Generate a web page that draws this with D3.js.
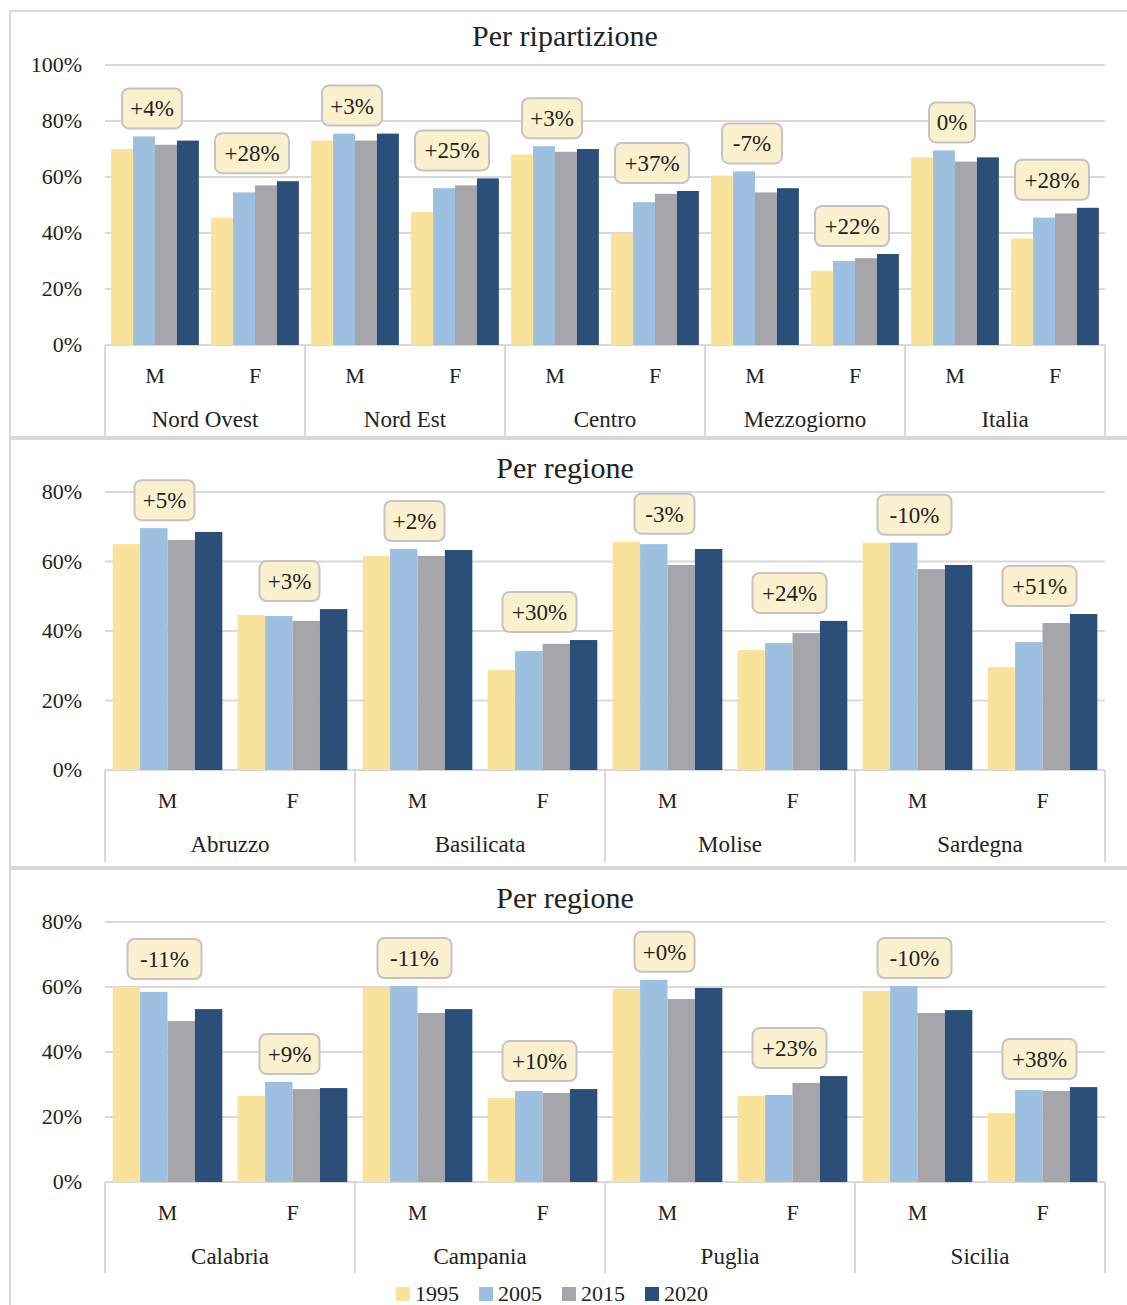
<!DOCTYPE html>
<html><head><meta charset="utf-8">
<script src="https://cdn.jsdelivr.net/npm/d3@7"></script>
<style>body{margin:0;background:#fff}svg text{font-family:"Liberation Serif","DejaVu Serif",serif;fill:#222}</style>
</head><body><svg id="c" width="1127" height="1305" font-family="Liberation Serif, serif"></svg>
<script>
const years = ["1995","2005","2015","2020"];
const colors = ["#f9e39a","#9dbfe0","#a6a6aa","#2c4f79"];
const sexes = ["M","F"];
// panel 1
const p1Groups = ["Nord Ovest","Nord Est","Centro","Mezzogiorno","Italia"];
const p1Values = [
 [[70,74.5,71.5,73],[45.5,54.5,57,58.5]],
 [[73,75.5,73,75.5],[47.5,56,57,59.5]],
 [[68,71,69,70],[40,51,54,55]],
 [[60.5,62,54.5,56],[26.5,30,31,32.5]],
 [[67,69.5,65.5,67],[38,45.5,47,49]]];
const p1Labels = [["+4%","+28%"],["+3%","+25%"],["+3%","+37%"],["-7%","+22%"],["0%","+28%"]];
// panel 2
const p2Groups = ["Abruzzo","Basilicata","Molise","Sardegna"];
const p2Values = [
 [[65,69.6,66.2,68.5],[44.6,44.3,42.9,46.3]],
 [[61.6,63.6,61.6,63.3],[28.8,34.2,36.3,37.4]],
 [[65.7,65,59,63.6],[34.5,36.5,39.4,42.9]],
 [[65.4,65.4,57.8,59],[29.6,36.8,42.3,44.9]]];
const p2Labels = [["+5%","+3%"],["+2%","+30%"],["-3%","+24%"],["-10%","+51%"]];
// panel 3
const p3Groups = ["Calabria","Campania","Puglia","Sicilia"];
const p3Values = [
 [[60,58.5,49.5,53.2],[26.5,30.8,28.6,28.9]],
 [[59.7,60.3,52,53.2],[25.8,28,27.4,28.6]],
 [[59.4,62.2,56.3,59.7],[26.5,26.8,30.5,32.6]],
 [[58.8,60.3,52,52.9],[21.2,28.3,28,29.2]]];
const p3Labels = [["-11%","+9%"],["-11%","+10%"],["+0%","+23%"],["-10%","+38%"]];

const svg = d3.select("#c");
function panel(o){
  const g = svg.append("g");
  g.append("rect").attr("x",10).attr("y",o.by0).attr("width",1130).attr("height",o.by1-o.by0)
   .attr("fill","none").attr("stroke","#d9d9d9").attr("stroke-width",2);
  g.append("text").attr("x",565).attr("y",o.ty).attr("text-anchor","middle").attr("font-size",30).text(o.title);
  const y = d3.scaleLinear().domain([0,o.max]).range([o.y0,o.y1]);
  const x0 = d3.scaleBand().domain(o.groups).range([105,1105]);
  const x1 = d3.scaleBand().domain(sexes).range([0,x0.bandwidth()]);
  const x2 = d3.scaleBand().domain(years).range([0,x1.bandwidth()]).paddingOuter(0.28).paddingInner(0);
  const ticks = d3.range(0,o.max+1,20);
  g.selectAll(".gl").data(ticks).join("line").attr("x1",105).attr("x2",1105)
   .attr("y1",d=>y(d)).attr("y2",d=>y(d)).attr("stroke","#d9d9d9").attr("stroke-width",2);
  g.selectAll(".tl").data(ticks).join("text").attr("x",82).attr("y",d=>y(d)+7)
   .attr("text-anchor","end").attr("font-size",22).text(d=>d+"%");
  o.groups.forEach((grp,gi)=>{
    sexes.forEach((s,si)=>{
      const vals=o.values[gi][si];
      const bx=x0(grp)+x1(s);
      const gg=g.append("g").attr("transform",`translate(${bx},0)`);
      gg.selectAll("rect").data(vals).join("rect").attr("x",(d,i)=>x2(years[i])).attr("width",x2.bandwidth())
        .attr("y",d=>y(d)).attr("height",d=>y(0)-y(d)).attr("fill",(d,i)=>colors[i]);
      const cx=bx+x1.bandwidth()/2-3;
      const lab=o.labels[gi][si];
      const w=lab.length*14+18, h=40, bottom=y(d3.max(vals))-8;
      g.append("rect").attr("x",cx-w/2).attr("y",bottom-h).attr("width",w).attr("height",h).attr("rx",7)
        .attr("fill","#fcf1cf").attr("stroke","#c4c4c4").attr("stroke-width",2);
      g.append("text").attr("x",cx).attr("y",bottom-h/2+8).attr("text-anchor","middle").attr("font-size",23).text(lab);
      g.append("text").attr("x",bx+x1.bandwidth()/2).attr("y",o.y0+38).attr("text-anchor","middle").attr("font-size",22).text(s);
    });
    g.append("text").attr("x",x0(grp)+x0.bandwidth()/2).attr("y",o.y0+82).attr("text-anchor","middle").attr("font-size",23).text(grp);
  });
  g.selectAll(".sep").data([...o.groups.map(d=>x0(d)),1105]).join("line").attr("x1",d=>d).attr("x2",d=>d)
   .attr("y1",o.y0).attr("y2",o.sepEnd).attr("stroke","#d9d9d9").attr("stroke-width",2);
}
panel({by0:11,by1:437,sepEnd:436,ty:46,title:"Per ripartizione",max:100,y0:345,y1:65,groups:p1Groups,values:p1Values,labels:p1Labels});
panel({by0:439,by1:867,sepEnd:862,ty:478,title:"Per regione",max:80,y0:770,y1:492,groups:p2Groups,values:p2Values,labels:p2Labels});
panel({by0:869,by1:1330,sepEnd:1273,ty:908,title:"Per regione",max:80,y0:1182,y1:922,groups:p3Groups,values:p3Values,labels:p3Labels});
const lg = svg.append("g").attr("transform","translate(396,1281)");
let lx=0;
years.forEach((yr,i)=>{
  lg.append("rect").attr("x",lx).attr("y",6).attr("width",14).attr("height",14).attr("fill",colors[i]);
  lg.append("text").attr("x",lx+19).attr("y",20).attr("font-size",22).text(yr);
  lx+=83;
});
</script></body></html>
